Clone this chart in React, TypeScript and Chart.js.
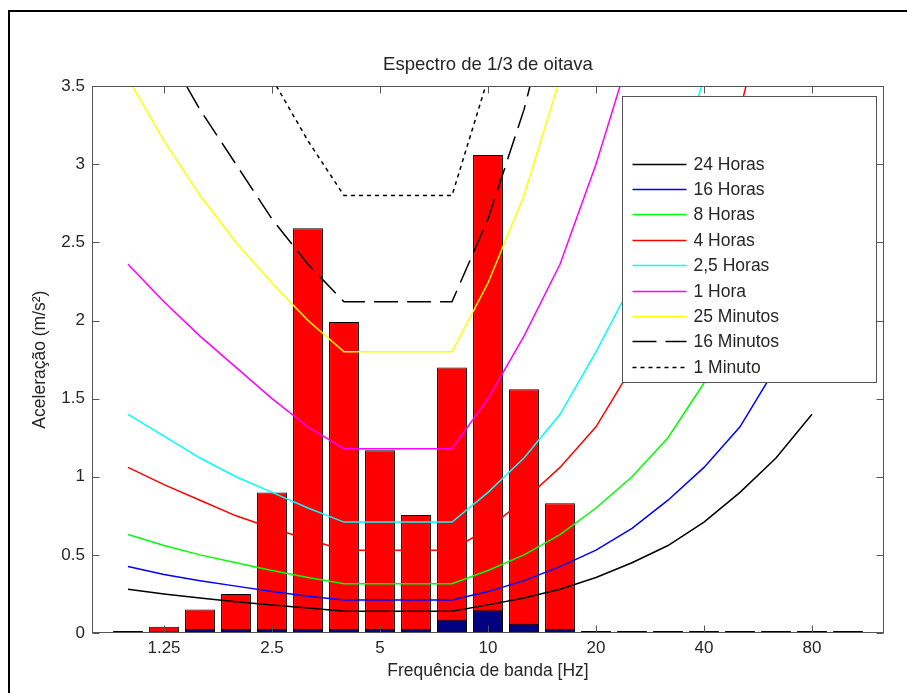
import React, { useEffect, useRef } from 'react';
import { Chart, registerables } from 'chart.js';

Chart.register(...registerables);

const FONT = "'Liberation Sans', Arial, Helvetica, sans-serif";
const TEXT = '#262626';

// 1/3 octave band centre frequencies (Hz)
const bands = ['0.8', '1', '1.25', '1.6', '2', '2.5', '3.15', '4', '5', '6.3', '8', '10', '12.5', '16', '20', '25', '31.5', '40', '50', '63', '80', '100', '125'];
const shownTicks = ['1.25', '2.5', '5', '10', '20', '40', '80'];

// measured band acceleration (red bars)
const measured = [null, 0, 0.04, 0.15, 0.25, 0.9, 2.59, 1.99, 1.17, 0.755, 1.7, 3.06, 1.56, 0.83, 0, 0, 0, 0, 0, 0, 0, 0, null];
// second series (navy bars)
const weighted = [null, 0, 0.01, 0.025, 0.025, 0.025, 0.025, 0.025, 0.025, 0.025, 0.085, 0.145, 0.06, 0.025, 0, 0, 0, 0, 0, 0, 0, 0, null];

// exposure limit curves
const h24 = [null, 0.28, 0.25, 0.224, 0.2, 0.18, 0.16, 0.14, 0.14, 0.14, 0.14, 0.18, 0.224, 0.28, 0.355, 0.45, 0.56, 0.71, 0.9, 1.12, 1.4, null, null];
const h16 = [null, 0.425, 0.375, 0.335, 0.3, 0.265, 0.235, 0.212, 0.212, 0.212, 0.212, 0.265, 0.335, 0.425, 0.53, 0.67, 0.85, 1.06, 1.32, 1.7, 2.12, null, null];
const h8 = [null, 0.63, 0.56, 0.5, 0.45, 0.4, 0.355, 0.315, 0.315, 0.315, 0.315, 0.4, 0.5, 0.63, 0.8, 1.0, 1.25, 1.6, 2.0, 2.5, 3.15, null, null];
const h4 = [null, 1.06, 0.95, 0.85, 0.75, 0.67, 0.6, 0.53, 0.53, 0.53, 0.53, 0.67, 0.85, 1.06, 1.32, 1.7, 2.12, 2.65, 3.35, 4.25, 5.3, null, null];
const h25 = [null, 1.4, 1.26, 1.12, 1.0, 0.9, 0.8, 0.71, 0.71, 0.71, 0.71, 0.9, 1.12, 1.4, 1.8, 2.24, 2.8, 3.55, 4.5, 5.6, 7.1, null, null];
const h1 = [null, 2.36, 2.12, 1.9, 1.7, 1.5, 1.32, 1.18, 1.18, 1.18, 1.18, 1.5, 1.9, 2.36, 3.0, 3.75, 4.75, 6.0, 7.5, 9.5, 11.8, null, null];
const m25 = [null, 3.55, 3.15, 2.8, 2.5, 2.24, 2.0, 1.8, 1.8, 1.8, 1.8, 2.24, 2.8, 3.55, 4.5, 5.6, 7.1, 9.0, 11.2, 14.0, 18.0, null, null];
const m16 = [null, 4.25, 3.75, 3.35, 3.0, 2.65, 2.36, 2.12, 2.12, 2.12, 2.12, 2.65, 3.35, 4.25, 5.3, 6.7, 8.5, 10.6, 13.2, 17.0, 21.2, null, null];
const m1 = [null, 5.6, 5.0, 4.5, 4.0, 3.55, 3.15, 2.8, 2.8, 2.8, 2.8, 3.55, 4.5, 5.6, 7.1, 9.0, 11.2, 14.0, 18.0, 22.4, 28.0, null, null];

const curveNames = ['24 Horas', '16 Horas', '8 Horas', '4 Horas', '2,5 Horas', '1 Hora', '25 Minutos', '16 Minutos', '1 Minuto'];
const curveData = [h24, h16, h8, h4, h25, h1, m25, m16, m1];
const curveColors = ['#000000', '#0000ff', '#00ff00', '#ff0000', '#00ffff', '#ff00ff', '#ffff00', '#000000', '#000000'];
const curveDashes: number[][] = [[], [], [], [], [], [], [], [24, 9], [4, 4]];

const yTicksMin = 0;
const yTicksMax = 3.5;
const yStep = 0.5;

const decor = {
  id: 'decor',
  beforeDraw(chart: any) {
    const { ctx, width, height } = chart;
    ctx.save();
    ctx.fillStyle = '#ffffff';
    ctx.fillRect(0, 0, width, height);
    ctx.strokeStyle = '#000';
    ctx.lineWidth = 2;
    ctx.strokeRect(9, 11, width + 20, height + 20);
    ctx.restore();
  },
  afterDatasetsDraw(chart: any) {
    const { ctx, chartArea: a } = chart;
    const x = chart.scales.x;
    const y = chart.scales.y;
    ctx.save();
    ctx.strokeStyle = '#555';
    ctx.lineWidth = 1;
    const L = Math.round(a.left) + 0.5;
    const R = Math.round(a.right) - 0.5;
    const T = Math.round(a.top) + 0.5;
    const B = Math.round(a.bottom) - 0.5;
    const seg = (x1: number, y1: number, x2: number, y2: number) => {
      ctx.beginPath();
      ctx.moveTo(x1, y1);
      ctx.lineTo(x2, y2);
      ctx.stroke();
    };
    // axes box
    ctx.strokeRect(L, T, R - L, B - T);
    // inward ticks
    const tl = 7;
    x.ticks.forEach((_t: any, i: number) => {
      if (!shownTicks.includes(bands[i])) return;
      const px = Math.round(x.getPixelForTick(i)) + 0.5;
      seg(px, B, px, B - tl);
      seg(px, T, px, T + tl);
    });
    y.ticks.forEach((_t: any, i: number) => {
      const py = Math.round(y.getPixelForTick(i)) + 0.5;
      seg(L, py, L + tl, py);
      seg(R, py, R - tl, py);
    });

    // legend box
    const lgL = Math.round(a.right) - 262 + 0.5;
    const lgR = Math.round(a.right) - 8 + 0.5;
    const lgT = Math.round(a.top) + 10 + 0.5;
    const lgB = Math.round(a.top) + 296 + 0.5;
    ctx.fillStyle = '#fff';
    ctx.fillRect(lgL, lgT, lgR - lgL, lgB - lgT);
    ctx.strokeStyle = '#555';
    ctx.lineWidth = 1;
    ctx.strokeRect(lgL, lgT, lgR - lgL, lgB - lgT);
    ctx.font = `17.5px ${FONT}`;
    ctx.textBaseline = 'middle';
    ctx.textAlign = 'left';
    curveNames.forEach((name, k) => {
      const yy = Math.round(lgT + 67 + k * 25.4) + 0.5;
      ctx.strokeStyle = curveColors[k];
      ctx.lineWidth = 1.5;
      ctx.setLineDash(curveDashes[k]);
      seg(lgL + 10, yy, lgL + 64, yy);
      ctx.setLineDash([]);
      ctx.fillStyle = TEXT;
      ctx.fillText(name, lgL + 71, yy + 1);
    });
    ctx.restore();
  },
};

export default function App() {
  const ref = useRef<HTMLCanvasElement | null>(null);

  useEffect(() => {
    if (!ref.current) return;
    Chart.defaults.font.family = FONT;
    const lineSets = curveNames.map((name, k) => ({
      type: 'line' as const,
      label: name,
      data: curveData[k],
      borderColor: curveColors[k],
      backgroundColor: curveColors[k],
      borderWidth: 1.5,
      borderDash: curveDashes[k],
      pointRadius: 0,
      tension: 0,
      fill: false,
      order: 0,
    }));
    const chart = new Chart(ref.current, {
      type: 'bar',
      data: {
        labels: bands,
        datasets: [
          ...lineSets,
          {
            type: 'bar' as const,
            label: 'weighted',
            data: weighted,
            backgroundColor: '#000080',
            borderColor: '#000',
            borderWidth: 1,
            borderSkipped: false,
            grouped: false,
            barPercentage: 0.83,
            categoryPercentage: 1,
            order: 1,
          },
          {
            type: 'bar' as const,
            label: 'measured',
            data: measured,
            backgroundColor: '#ff0000',
            borderColor: '#000',
            borderWidth: 1,
            borderSkipped: false,
            grouped: false,
            barPercentage: 0.83,
            categoryPercentage: 1,
            minBarLength: 2,
            order: 2,
          },
        ] as any,
      },
      options: {
        responsive: false,
        maintainAspectRatio: false,
        animation: false,
        layout: { padding: { left: 0, right: 23, top: 0, bottom: 0 } },
        plugins: {
          legend: { display: false },
          tooltip: { enabled: false },
          title: {
            display: true,
            text: 'Espectro de 1/3 de oitava',
            fullSize: false,
            color: TEXT,
            font: { family: FONT, size: 18.5, weight: 'normal' },
            padding: { top: 54, bottom: 10 },
          },
        },
        scales: {
          x: {
            type: 'category',
            offset: false,
            grid: { display: false, drawTicks: false },
            border: { display: false },
            ticks: {
              autoSkip: false,
              maxRotation: 0,
              minRotation: 0,
              padding: 5,
              color: TEXT,
              font: { family: FONT, size: 17 },
              callback: (_v: any, i: number) => (shownTicks.includes(bands[i]) ? bands[i] : ''),
            },
            title: {
              display: true,
              text: 'Frequência de banda [Hz]',
              color: TEXT,
              font: { family: FONT, size: 17.5 },
              padding: { top: 0, bottom: 11 },
            },
            afterFit: (s: any) => {
              s.height = 60;
            },
          },
          y: {
            min: yTicksMin,
            max: yTicksMax,
            grid: { display: false, drawTicks: false },
            border: { display: false },
            ticks: {
              stepSize: yStep,
              padding: 7,
              color: TEXT,
              font: { family: FONT, size: 17 },
              callback: (v: any) => String(Number(v)),
            },
            title: {
              display: true,
              text: 'Aceleração (m/s²)',
              color: TEXT,
              font: { family: FONT, size: 17.5 },
              padding: { top: 30, bottom: 0 },
            },
            afterFit: (s: any) => {
              s.width = 92;
            },
          },
        },
      } as any,
      plugins: [decor],
    });
    return () => chart.destroy();
  }, []);

  return (
    <div style={{ position: 'fixed', left: 0, top: 0, width: 907, height: 693, background: '#fff' }}>
      <canvas ref={ref} width={907} height={693} style={{ display: 'block' }} />
    </div>
  );
}
